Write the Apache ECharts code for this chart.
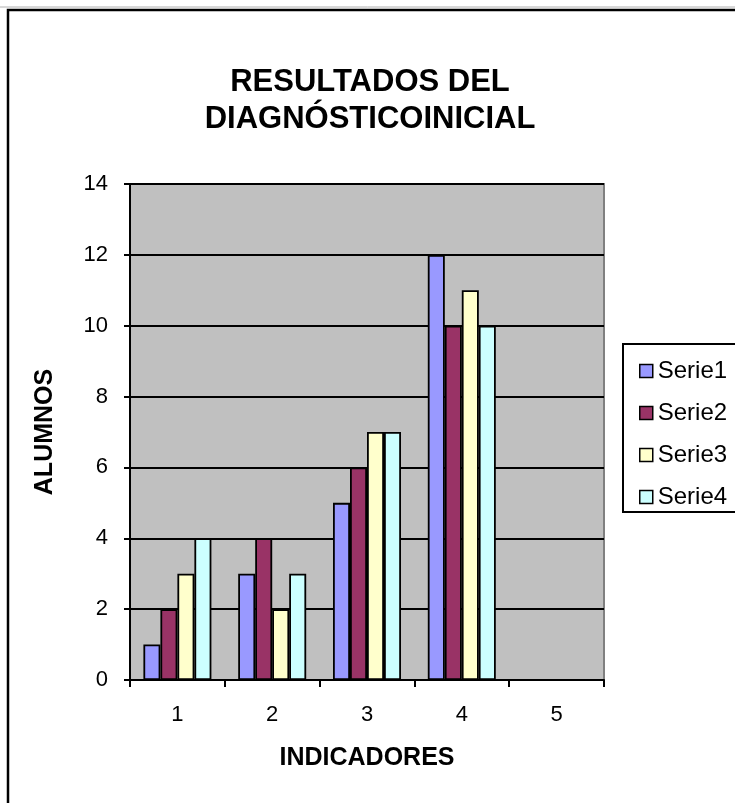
<!DOCTYPE html>
<html>
<head>
<meta charset="utf-8">
<script src="https://cdn.jsdelivr.net/npm/echarts@6/dist/echarts.min.js"></script>
<style>
html,body{margin:0;padding:0;background:#fff;}
#chart{width:735px;height:803px;}
</style>
</head>
<body>
<div id="chart"></div>
<script>
const titleText = 'RESULTADOS DEL\nDIAGNÓSTICOINICIAL';
const categories = ['1', '2', '3', '4', '5'];
const serie1 = [1, 3, 5, 12, null];
const serie2 = [2, 4, 6, 10, null];
const serie3 = [3, 2, 7, 11, null];
const serie4 = [4, 3, 7, 10, null];
const seriesNames = ['Serie1', 'Serie2', 'Serie3', 'Serie4'];
const seriesColors = ['#9999FF', '#993366', '#FFFFCC', '#CCFFFF'];
const seriesData = [serie1, serie2, serie3, serie4];

const FONT = '"Liberation Sans", Arial, sans-serif';
const chart = echarts.init(document.getElementById('chart'));

chart.setOption({
  backgroundColor: '#ffffff',
  animation: false,
  graphic: [
    { type: 'line', shape: { x1: 0, y1: 7, x2: 735, y2: 7 }, style: { stroke: '#b0b0b0', lineWidth: 1 }, z: 0 },
    { type: 'polyline', shape: { points: [[8, 803], [8, 10], [735, 10]] }, style: { stroke: '#000', lineWidth: 2.5, fill: null }, z: 0 },
    { type: 'rect', shape: { x: 623, y: 344, width: 130, height: 168 }, style: { stroke: '#000', lineWidth: 2, fill: '#fff' }, z: 1 },
    { type: 'text', x: 370, y: 64, z: 5,
      style: { text: titleText, textAlign: 'center', textVerticalAlign: 'top', verticalAlign: 'top', align: 'center',
        fontFamily: FONT, fontSize: 31, fontWeight: 'bold', fill: '#000', lineHeight: 37 } }
  ],
  legend: {
    orient: 'vertical',
    left: 634,
    top: 353,
    itemWidth: 13,
    itemHeight: 13,
    itemGap: 16,
    icon: 'rect',
    itemStyle: { borderColor: '#000', borderWidth: 1.5 },
    textStyle: { fontFamily: FONT, fontSize: 24, color: '#000', lineHeight: 26 },
    data: seriesNames,
    z: 5
  },
  grid: {
    left: 130, right: 131, top: 184, bottom: 123,
    show: true,
    backgroundColor: '#C0C0C0',
    borderColor: '#808080',
    borderWidth: 2
  },
  xAxis: {
    type: 'category',
    data: categories,
    name: 'INDICADORES',
    nameLocation: 'middle',
    nameGap: 66,
    nameTextStyle: { fontFamily: FONT, fontSize: 25, fontWeight: 'bold', color: '#000' },
    axisLine: { lineStyle: { color: '#000', width: 2 } },
    axisTick: { show: true, length: 7, lineStyle: { color: '#000', width: 2 } },
    axisLabel: { fontFamily: FONT, fontSize: 22, color: '#000', margin: 24 },
    splitLine: { show: false }
  },
  yAxis: {
    type: 'value',
    min: 0, max: 14, interval: 2,
    name: 'ALUMNOS',
    nameLocation: 'middle',
    nameGap: 72,
    nameRotate: 90,
    nameTextStyle: { fontFamily: FONT, fontSize: 25, fontWeight: 'bold', color: '#000' },
    axisLine: { show: true, lineStyle: { color: '#000', width: 2 } },
    axisTick: { show: true, length: 6, lineStyle: { color: '#000', width: 2 } },
    axisLabel: { fontFamily: FONT, fontSize: 22, color: '#000', margin: 22 },
    splitLine: { show: true, lineStyle: { color: '#000', width: 2 } }
  },
  series: seriesNames.map((name, i) => ({
    name: name,
    type: 'bar',
    data: seriesData[i],
    barWidth: 17,
    barGap: '0%',
    itemStyle: { color: seriesColors[i], borderColor: '#000', borderWidth: 1.8 }
  }))
});
</script>
</body>
</html>
